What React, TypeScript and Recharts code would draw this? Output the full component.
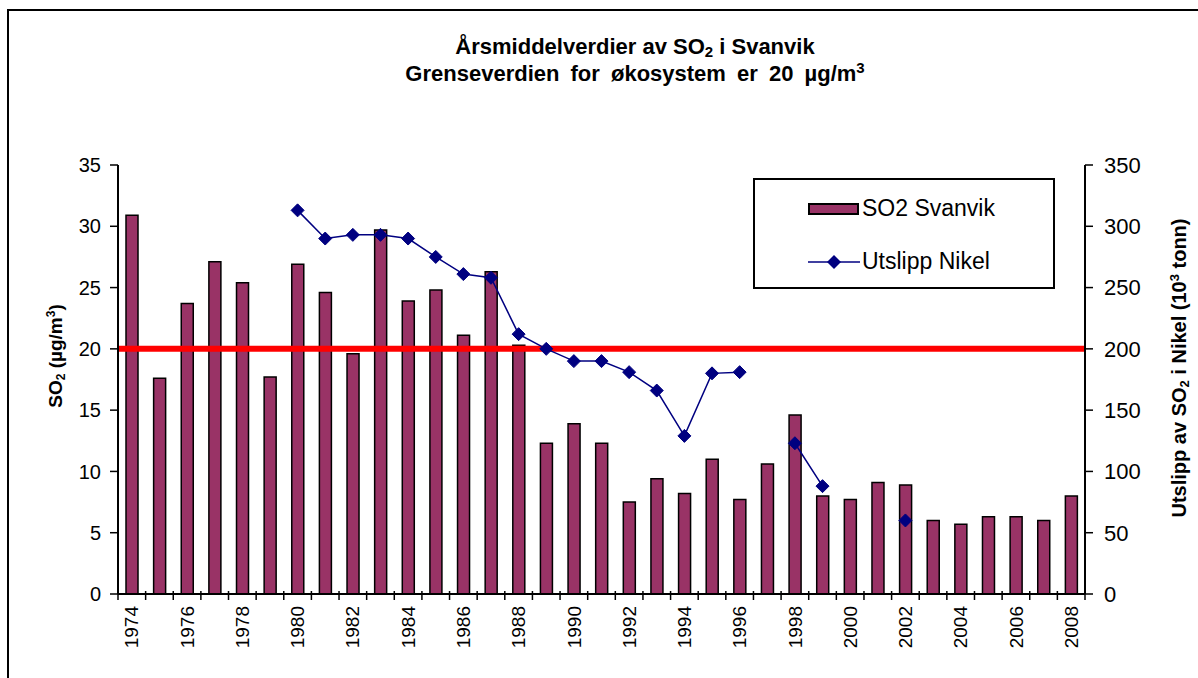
import React from 'react'
import {
  ComposedChart, Bar, Line, XAxis, YAxis, ReferenceLine,
} from 'recharts'

const years = [
  '1974', '1975', '1976', '1977', '1978', '1979', '1980', '1981', '1982', '1983',
  '1984', '1985', '1986', '1987', '1988', '1989', '1990', '1991', '1992', '1993',
  '1994', '1995', '1996', '1997', '1998', '1999', '2000', '2001', '2002', '2003',
  '2004', '2005', '2006', '2007', '2008',
]

// årsmiddel SO2 i Svanvik (µg/m3)
const so2Svanvik = [
  30.9, 17.6, 23.7, 27.1, 25.4, 17.7, 26.9, 24.6, 19.6, 29.7,
  23.9, 24.8, 21.1, 26.3, 20.3, 12.3, 13.9, 12.3, 7.5, 9.4,
  8.2, 11.0, 7.7, 10.6, 14.6, 8.0, 7.7, 9.1, 8.9, 6.0,
  5.7, 6.3, 6.3, 6.0, 8.0,
]

// utslipp Nikel (10^3 tonn)
const utslippNikel: (number | null)[] = [
  null, null, null, null, null, null, 313, 290, 293, 293,
  290, 275, 261, 258, 212, 200, 190, 190, 181, 166,
  129, 180, 181, null, 123, 88, null, null, 60, null,
  null, null, null, null, null,
]

const leftTicks = [0, 5, 10, 15, 20, 25, 30, 35]
const rightTicks = [0, 50, 100, 150, 200, 250, 300, 350]
const GRENSE = 20

const data = years.map((year, i) => ({
  year,
  so2: so2Svanvik[i],
  nikel: utslippNikel[i],
}))

const W = 1198
const H = 678
const PLOT_LEFT = 118
const PLOT_RIGHT = 1085
const PLOT_TOP = 165
const PLOT_BOTTOM = 594
const Y_W = 60
const X_H = 70
const TICK_SIZE = 6
const TICK_MARGIN = 6
const BAND = (PLOT_RIGHT - PLOT_LEFT) / years.length

const FONT = 'Arial, "Liberation Sans", Helvetica, sans-serif'
const PLUM = '#993366'
const NAVY = '#000080'

const XTick = ({ x, y, payload, index }: any) => {
  const axisY = y - TICK_SIZE - TICK_MARGIN
  const left = x - BAND / 2
  return (
    <g>
      <line x1={left} x2={left} y1={axisY - 3} y2={axisY + 6} stroke="#000" strokeWidth={1.5} />
      {index === years.length - 1 && (
        <line x1={x + BAND / 2} x2={x + BAND / 2} y1={axisY - 3} y2={axisY + 6} stroke="#000" strokeWidth={1.5} />
      )}
      {index % 2 === 0 && (
        <text
          transform={`translate(${x},${axisY + 12}) rotate(-90)`}
          textAnchor="end"
          dy="0.35em"
          fontSize={19}
          fontFamily={FONT}
          fill="#000"
        >
          {payload.value}
        </text>
      )}
    </g>
  )
}

const Diamond = (props: any) => {
  const { cx, cy, payload } = props
  if (payload?.nikel == null || cx == null || cy == null) return <g />
  const r = 6.5
  return (
    <polygon
      points={`${cx},${cy - r} ${cx + r},${cy} ${cx},${cy + r} ${cx - r},${cy}`}
      fill={NAVY}
      stroke={NAVY}
    />
  )
}

export default function App() {
  return (
    <div style={{ position: 'absolute', left: 0, top: 0, width: W, height: H, background: '#fff', overflow: 'hidden', fontFamily: FONT }}>
      <div style={{ position: 'absolute', left: 7, top: 9, width: W, height: H, borderLeft: '2px solid #000', borderTop: '2px solid #000' }} />

      <div style={{ position: 'absolute', left: 0, width: W, top: 33, textAlign: 'center', fontWeight: 'bold', fontSize: 22, lineHeight: '27px', paddingLeft: 36 }}>
        <div>Årsmiddelverdier av SO<sub style={{ fontSize: 15, verticalAlign: -3, lineHeight: 0 }}>2</sub> i Svanvik</div>
        <div style={{ wordSpacing: 5 }}>Grenseverdien for økosystem er 20 µg/m<sup style={{ fontSize: 15, verticalAlign: 8, lineHeight: 0 }}>3</sup></div>
      </div>

      <ComposedChart
        width={W}
        height={H}
        data={data}
        margin={{ top: PLOT_TOP, left: PLOT_LEFT - Y_W, right: W - PLOT_RIGHT - Y_W, bottom: H - PLOT_BOTTOM - X_H }}
        barCategoryGap={0}
      >
        <XAxis
          dataKey="year"
          height={X_H}
          interval={0}
          tickLine={false}
          tickSize={TICK_SIZE}
          tickMargin={TICK_MARGIN}
          axisLine={{ stroke: '#000', strokeWidth: 2 }}
          tick={<XTick />}
        />
        <YAxis
          yAxisId="left"
          width={Y_W}
          domain={[0, 35]}
          ticks={leftTicks}
          interval={0}
          axisLine={{ stroke: '#000', strokeWidth: 2 }}
          tickLine={{ stroke: '#000', strokeWidth: 1.5 }}
          tickSize={8}
          tickMargin={9}
          tick={{ fontSize: 20, fill: '#000', fontFamily: FONT }}
        />
        <YAxis
          yAxisId="right"
          orientation="right"
          width={Y_W}
          domain={[0, 350]}
          ticks={rightTicks}
          interval={0}
          axisLine={{ stroke: '#000', strokeWidth: 2 }}
          tickLine={{ stroke: '#000', strokeWidth: 1.5 }}
          tickSize={8}
          tickMargin={11}
          tick={{ fontSize: 22, fill: '#000', fontFamily: FONT }}
        />
        <Bar
          yAxisId="left"
          dataKey="so2"
          name="SO2 Svanvik"
          fill={PLUM}
          stroke="#000"
          strokeWidth={1.5}
          barSize={12}
          isAnimationActive={false}
        />
        <ReferenceLine yAxisId="left" y={GRENSE} stroke="#ff0000" strokeWidth={6} />
        <Line
          yAxisId="right"
          dataKey="nikel"
          name="Utslipp Nikel"
          stroke={NAVY}
          strokeWidth={1.5}
          dot={<Diamond />}
          activeDot={false}
          isAnimationActive={false}
        />
      </ComposedChart>

      {/* aksetitler */}
      <div style={{ position: 'absolute', left: 56, top: 356, transform: 'translate(-50%,-50%) rotate(-90deg)', whiteSpace: 'nowrap', fontWeight: 'bold', fontSize: 19 }}>
        SO<sub style={{ fontSize: 12, verticalAlign: -3 }}>2</sub> (µg/m<sup style={{ fontSize: 12, verticalAlign: 7 }}>3</sup>)
      </div>
      <div style={{ position: 'absolute', left: 1179, top: 368, transform: 'translate(-50%,-50%) rotate(-90deg)', whiteSpace: 'nowrap', fontWeight: 'bold', fontSize: 20 }}>
        Utslipp av SO<sub style={{ fontSize: 13, verticalAlign: -3 }}>2</sub> i Nikel (10<sup style={{ fontSize: 13, verticalAlign: 7 }}>3</sup> tonn)
      </div>

      {/* forklaring */}
      <div style={{ position: 'absolute', left: 753, top: 178, width: 298, height: 107, border: '2px solid #000', background: '#fff', fontSize: 23 }}>
        <div style={{ position: 'absolute', left: 53, top: 15, display: 'flex', alignItems: 'center' }}>
          <svg width={52} height={16}>
            <rect x={1} y={3} width={49} height={10} fill={PLUM} stroke="#000" strokeWidth={2} />
          </svg>
          <span style={{ marginLeft: 2 }}>SO2 Svanvik</span>
        </div>
        <div style={{ position: 'absolute', left: 53, top: 68, display: 'flex', alignItems: 'center' }}>
          <svg width={52} height={16}>
            <line x1={0} x2={52} y1={8} y2={8} stroke={NAVY} strokeWidth={1.5} />
            <polygon points="26,1 33,8 26,15 19,8" fill={NAVY} />
          </svg>
          <span style={{ marginLeft: 2 }}>Utslipp Nikel</span>
        </div>
      </div>
    </div>
  )
}
